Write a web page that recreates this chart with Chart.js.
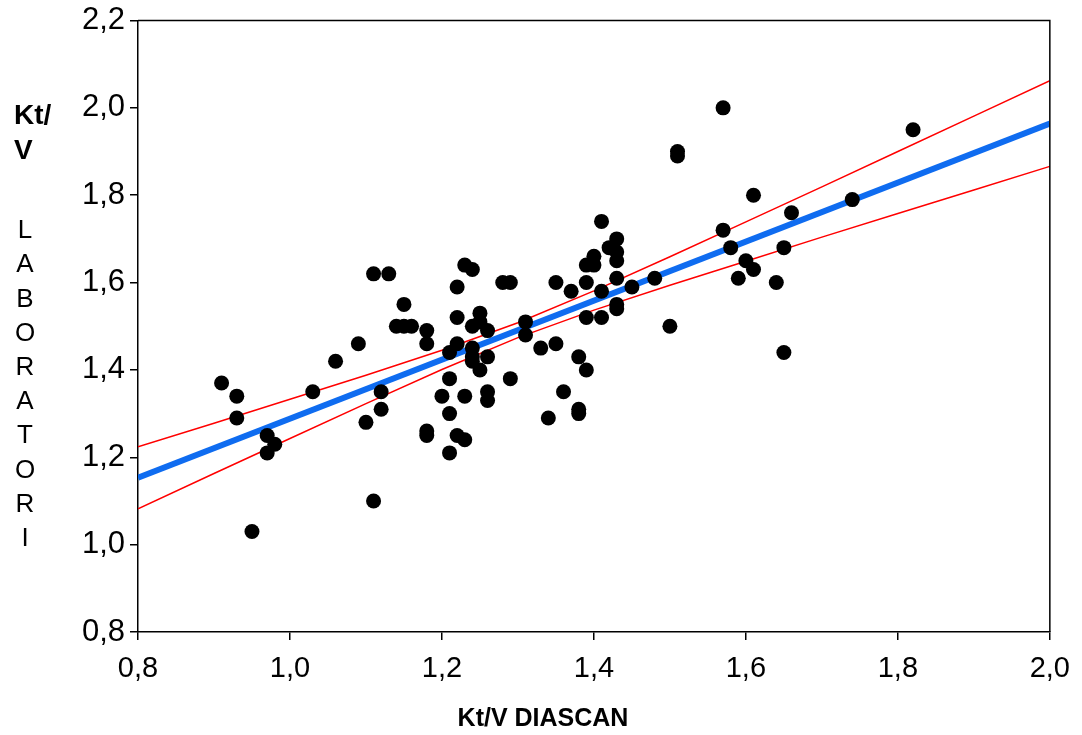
<!DOCTYPE html>
<html>
<head>
<meta charset="utf-8">
<script src="https://cdn.jsdelivr.net/npm/chart.js@4.4.1/dist/chart.umd.min.js"></script>
<style>
	html, body { margin: 0; padding: 0; background: #fff; }
	#wrap { width: 1082px; height: 735px; }
</style>
</head>
<body>
<div id="wrap"><canvas id="ktvChart" width="1082" height="735"></canvas></div>
<script>
// Kt/V measured by Diascan (x) vs laboratory Kt/V (y)
var diascan = [0.91, 0.93, 0.93, 0.95, 0.97, 0.97, 0.98, 1.03, 1.06, 1.09, 1.10, 1.11, 1.11, 1.12, 1.12, 1.13,
	1.14, 1.15, 1.15, 1.16, 1.18, 1.18, 1.18, 1.18, 1.20, 1.21, 1.21, 1.21, 1.21, 1.22, 1.22, 1.22,
	1.22, 1.23, 1.23, 1.23, 1.24, 1.24, 1.24, 1.24, 1.24, 1.25, 1.25, 1.25, 1.26, 1.26, 1.26, 1.26,
	1.28, 1.29, 1.29, 1.31, 1.31, 1.33, 1.34, 1.35, 1.35, 1.36, 1.37, 1.38, 1.38, 1.38, 1.39, 1.39,
	1.39, 1.39, 1.40, 1.40, 1.41, 1.41, 1.41, 1.42, 1.43, 1.43, 1.43, 1.43, 1.43, 1.43, 1.45, 1.48,
	1.50, 1.51, 1.51, 1.57, 1.57, 1.58, 1.59, 1.60, 1.61, 1.61, 1.64, 1.65, 1.65, 1.66, 1.74, 1.82];
var laboratori = [1.37, 1.34, 1.29, 1.03, 1.25, 1.21, 1.23, 1.35, 1.42, 1.46, 1.28, 1.10, 1.62, 1.35, 1.31, 1.62,
	1.50, 1.50, 1.55, 1.50, 1.49, 1.46, 1.26, 1.25, 1.34, 1.44, 1.38, 1.30, 1.21, 1.59, 1.52, 1.46,
	1.25, 1.64, 1.34, 1.24, 1.63, 1.50, 1.45, 1.43, 1.42, 1.53, 1.51, 1.40, 1.49, 1.43, 1.35, 1.33,
	1.60, 1.60, 1.38, 1.51, 1.48, 1.45, 1.29, 1.60, 1.46, 1.35, 1.58, 1.43, 1.31, 1.30, 1.64, 1.60,
	1.52, 1.40, 1.66, 1.64, 1.74, 1.58, 1.52, 1.68, 1.70, 1.67, 1.65, 1.61, 1.55, 1.54, 1.59, 1.61,
	1.50, 1.90, 1.89, 2.00, 1.72, 1.68, 1.61, 1.65, 1.80, 1.63, 1.60, 1.68, 1.44, 1.76, 1.79, 1.95];

// regression line and its confidence band
var fitX = [0.8, 2.0];
var fitY = [1.153, 1.964];
var bandX = [0.8, 0.9, 1.0, 1.1, 1.2, 1.3, 1.4, 1.5, 1.6, 1.7, 1.8, 1.9, 2.0];
var bandUpper = [1.224, 1.278, 1.333, 1.388, 1.445, 1.508, 1.581, 1.659, 1.739, 1.819, 1.900, 1.981, 2.062];
var bandLower = [1.082, 1.163, 1.243, 1.323, 1.401, 1.474, 1.537, 1.594, 1.649, 1.704, 1.758, 1.812, 1.866];

var xTicks = [0.8, 1.0, 1.2, 1.4, 1.6, 1.8, 2.0];
var xTickLabels = ['0,8', '1,0', '1,2', '1,4', '1,6', '1,8', '2,0'];
var yTicks = [0.8, 1.0, 1.2, 1.4, 1.6, 1.8, 2.0, 2.2];
var yTickLabels = ['0,8', '1,0', '1,2', '1,4', '1,6', '1,8', '2,0', '2,2'];

var xTitle = 'Kt/V DIASCAN';
var yTitleBold = ['Kt/', 'V'];
var yTitleLetters = 'LABORATORI'.split('');

var FONT = '"Liberation Sans", Arial, sans-serif';

var toPoints = function(xs, ys) {
	var pts = [];
	for (var i = 0; i < xs.length; i++) {
		pts.push({ x: xs[i], y: ys[i] });
	}
	return pts;
};

// full frame around the plot + the free-standing axis titles
var frameAndTitles = {
	id: 'frameAndTitles',
	afterDraw: function(chart) {
		var ctx = chart.ctx;
		var a = chart.chartArea;
		ctx.save();
		ctx.strokeStyle = '#000';
		ctx.lineWidth = 1.5;
		ctx.beginPath();
		ctx.moveTo(a.left, a.top);
		ctx.lineTo(a.right, a.top);
		ctx.lineTo(a.right, a.bottom);
		ctx.stroke();

		ctx.fillStyle = '#000';
		ctx.textBaseline = 'middle';
		ctx.textAlign = 'center';
		ctx.font = 'bold 25px ' + FONT;
		ctx.fillText(xTitle, 543, 719);

		ctx.textAlign = 'left';
		ctx.font = 'bold 28px ' + FONT;
		ctx.fillText(yTitleBold[0], 14, 116);
		ctx.fillText(yTitleBold[1], 14, 151);

		ctx.textAlign = 'center';
		ctx.font = '26px ' + FONT;
		for (var i = 0; i < yTitleLetters.length; i++) {
			ctx.fillText(yTitleLetters[i], 25, 231 + i * 34.2);
		}
		ctx.restore();
	}
};

var ctx = document.getElementById('ktvChart').getContext('2d');
var ktvChart = new Chart(ctx, {
	data: {
		datasets: [{
			type: 'scatter',
			data: toPoints(diascan, laboratori),
			backgroundColor: '#000',
			borderWidth: 0,
			pointRadius: 7.5,
			order: 0
		}, {
			type: 'line',
			data: toPoints(fitX, fitY),
			borderColor: '#0f6cf0',
			borderWidth: 6,
			pointRadius: 0,
			fill: false,
			order: 1
		}, {
			type: 'line',
			data: toPoints(bandX, bandUpper),
			borderColor: '#ff0000',
			borderWidth: 1.5,
			pointRadius: 0,
			fill: false,
			order: 2
		}, {
			type: 'line',
			data: toPoints(bandX, bandLower),
			borderColor: '#ff0000',
			borderWidth: 1.5,
			pointRadius: 0,
			fill: false,
			order: 2
		}]
	},
	options: {
		responsive: false,
		animation: false,
		devicePixelRatio: 1,
		layout: { padding: { left: 0, right: 31, top: 19, bottom: 0 } },
		plugins: {
			legend: { display: false },
			tooltip: { enabled: false }
		},
		scales: {
			x: {
				type: 'linear',
				min: 0.8,
				max: 2.0,
				afterBuildTicks: function(scale) {
					scale.ticks = xTicks.map(function(v) { return { value: v }; });
				},
				afterFit: function(scale) { scale.height = 103; },
				ticks: {
					callback: function(v) { return xTickLabels[xTicks.indexOf(v)]; },
					font: { family: FONT, size: 29 },
					color: '#000',
					padding: 12,
					maxRotation: 0,
					autoSkip: false
				},
				grid: { drawOnChartArea: false, tickLength: 8, color: '#000', lineWidth: 1.5 },
				border: { color: '#000', width: 1.5 }
			},
			y: {
				type: 'linear',
				min: 0.8,
				max: 2.2,
				afterBuildTicks: function(scale) {
					scale.ticks = yTicks.map(function(v) { return { value: v }; });
				},
				afterFit: function(scale) { scale.width = 138; },
				ticks: {
					callback: function(v) { return yTickLabels[yTicks.indexOf(v)]; },
					font: { family: FONT, size: 31, lineHeight: 1 },
					color: '#000',
					padding: 5,
					autoSkip: false
				},
				grid: { drawOnChartArea: false, tickLength: 8, color: '#000', lineWidth: 1.5 },
				border: { color: '#000', width: 1.5 }
			}
		}
	},
	plugins: [frameAndTitles]
});
</script>
</body>
</html>
